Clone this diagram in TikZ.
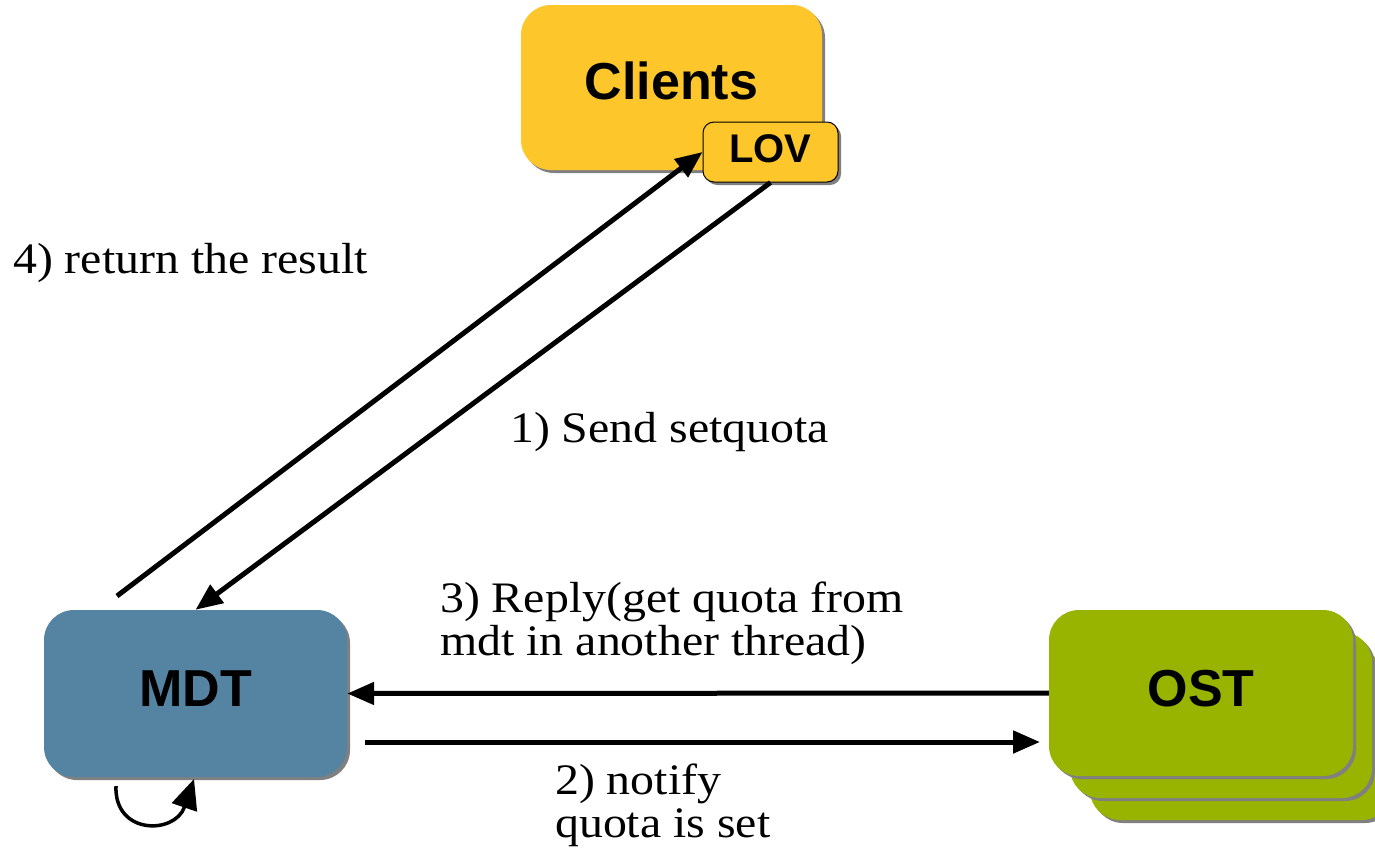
\documentclass[tikz,border=0pt]{standalone}
\usepackage{fontspec}
\setmainfont{Liberation Serif}
\newfontfamily\boxfont{Liberation Sans}
\newfontfamily\notefont[FakeStretch=1.1]{Liberation Serif}
\usetikzlibrary{arrows.meta,shadows}
\definecolor{clientc}{RGB}{253,198,42}
\definecolor{mdtc}{RGB}{85,132,162}
\definecolor{ostc}{RGB}{152,179,0}
\definecolor{shadowc}{RGB}{128,128,128}
\tikzset{
  boxbase/.style={inner sep=0pt, rounded corners=#1,
    drop shadow={shadow xshift=3pt,shadow yshift=-3pt,fill=shadowc,opacity=1}},
  bigbox/.style={boxbase=30pt, font=\boxfont\bfseries\fontsize{52}{52}\selectfont},
  lovbox/.style={boxbase=11pt, draw=black, line width=1pt, fill=clientc,
    minimum width=135pt, minimum height=60pt, text depth=6pt,
    font=\boxfont\bfseries\fontsize{40}{40}\selectfont},
  note/.style={anchor=base west, inner sep=0pt, align=left,
    font=\notefont\fontsize{43.5}{43}\selectfont},
  flow/.style={line width=5pt, -{Triangle[length=27pt,width=22pt]}},
  loopflow/.style={line width=3.5pt, -{Triangle[length=30pt,width=26pt]}}
}
\begin{document}
\begin{tikzpicture}[x=1pt,y=-1pt]
\useasboundingbox (0,0) rectangle (1375,860);
% Clients
\node[bigbox, fill=clientc, minimum width=301pt, minimum height=165pt, text depth=13pt] (clients) at (671.5,87.5) {Clients};
\node[lovbox] (lov) at (770.5,152) {LOV};
% MDT
\node[bigbox, fill=mdtc, minimum width=303pt, minimum height=167pt, text depth=10pt] (mdt) at (195.5,693.5) {MDT};
% OST stack
\node[bigbox, fill=ostc, minimum width=302pt, minimum height=166pt] (ost3) at (1241,737) {};
\node[bigbox, fill=ostc, minimum width=302pt, minimum height=166pt] (ost2) at (1221,715) {};
\node[bigbox, fill=ostc, minimum width=304pt, minimum height=166pt, text depth=9pt] (ost) at (1201,693) {OST};
% free ends
\coordinate (r4s) at (117,596);
\coordinate (n2s) at (365,742);
\coordinate (n2e) at (1040,742);
\coordinate (ls) at (116,786);
\coordinate (le) at (194,779);
% connectors
\draw[flow] (r4s) -- (lov.west);
\draw[flow] (lov.south) -- (mdt.north);
\draw[flow] (ost.west) -- (mdt.east);
\draw[flow] (n2s) -- (n2e);
\draw[loopflow] (ls) .. controls (114,835) and (175,835) .. (le);
% labels
\node[note] (t4) at (13,273) {4) return the result};
\node[note] (t1) at (510,442) {1) Send setquota};
\node[note] (t3) at (440,655) {3) Reply(get quota from\\mdt in another thread)};
\node[note] (t2) at (555,837) {2) notify\\quota is set};
\end{tikzpicture}
\end{document}
